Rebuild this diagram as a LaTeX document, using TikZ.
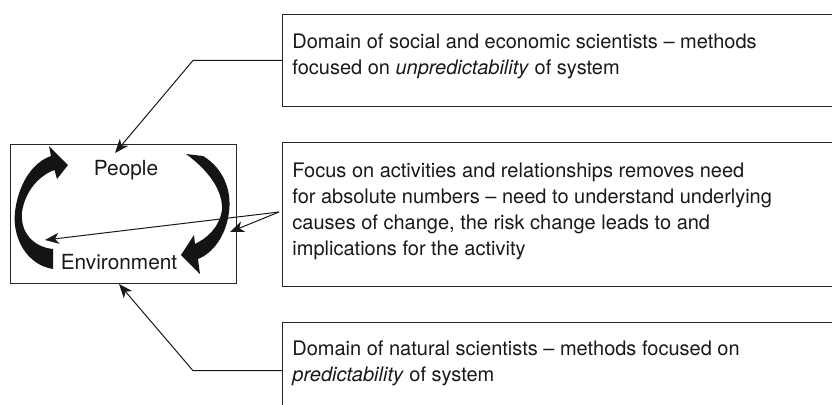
\documentclass[tikz,border=0pt]{standalone}
\usepackage{fontspec}
\setmainfont{TeX Gyre Heros}
\usetikzlibrary{arrows.meta}

\begin{document}
\begin{tikzpicture}[
    x=0.5pt, y=-0.5pt,
    box/.style={draw=black!85, line width=0.65pt, inner sep=0pt, anchor=north west, minimum width=300pt},
    txt/.style={anchor=north west, inner sep=0pt, align=left, text=black!90, font=\fontsize{10}{13}\selectfont},
    lbl/.style={anchor=base, inner sep=0pt, text=black!90, font=\fontsize{10.4}{12}\selectfont},
    arr/.style={-{Stealth[length=7pt, width=5.5pt, inset=2pt]}, line width=0.5pt, black!90},
    cycarrow/.style={fill=black!92, draw=none},
]
\clip (0,0) rectangle (832,404);

% system box with the two labels
\node[box, minimum width=113pt, minimum height=69.5pt] (sysbox) at (10,144) {};
\node[lbl] (people) at (126,175) {People};
\node[lbl] (env) at (119,269) {Environment};

% thick curved arrows of the cycle
\fill[cycarrow] (53,249) -- (53,269) .. controls (27,265) and (12,238) .. (15,212)
    .. controls (18,186) and (31,163) .. (51,156) -- (49,146) -- (68,165) -- (57,179)
    -- (54.5,170) .. controls (38,176) and (25,192) .. (22,212)
    .. controls (20,232) and (33,247) .. (53,249) -- cycle;
\fill[cycarrow] (186,154) -- (203,156) .. controls (223,168) and (232,190) .. (229,212)
    .. controls (226,236) and (213,253) .. (198,259) -- (200,274) -- (181,255) -- (194,235)
    -- (195,244) .. controls (207,238) and (219,228) .. (222,210)
    .. controls (223,190) and (208,170) .. (186,154) -- cycle;

% note boxes on the right
\node[box, minimum height=46.3pt] (socbox) at (282,13.5) {};
\node[txt] (soctxt) at (292,33.4) {Domain of social and economic scientists -- methods\\
    focused on \textit{unpredictability} of system};

\node[box, minimum height=72pt] (actbox) at (282,141.7) {};
\node[txt] (acttxt) at (292,162.4) {Focus on activities and relationships removes need\\
    for absolute numbers -- need to understand underlying\\
    causes of change, the risk change leads to and\\
    implications for the activity};

\node[box, minimum height=48pt] (natbox) at (282,322) {};
\node[txt] (nattxt) at (292,340.4) {Domain of natural scientists -- methods focused on\\
    \textit{predictability} of system};

% connectors
\coordinate (fork) at (279,212);
\coordinate (ptop) at (115,153);
\coordinate (pbot) at (119,284);
\coordinate (pleft) at (45,240);
\coordinate (pright) at (230,232);

\draw[arr] (socbox.west) -- ++(-89,0) -- (ptop);
\draw[arr] (natbox.west) -- ++(-89,0) -- (pbot);
\draw[arr] (fork) -- (pleft);
\draw[arr] (fork) -- (pright);

\end{tikzpicture}
\end{document}
